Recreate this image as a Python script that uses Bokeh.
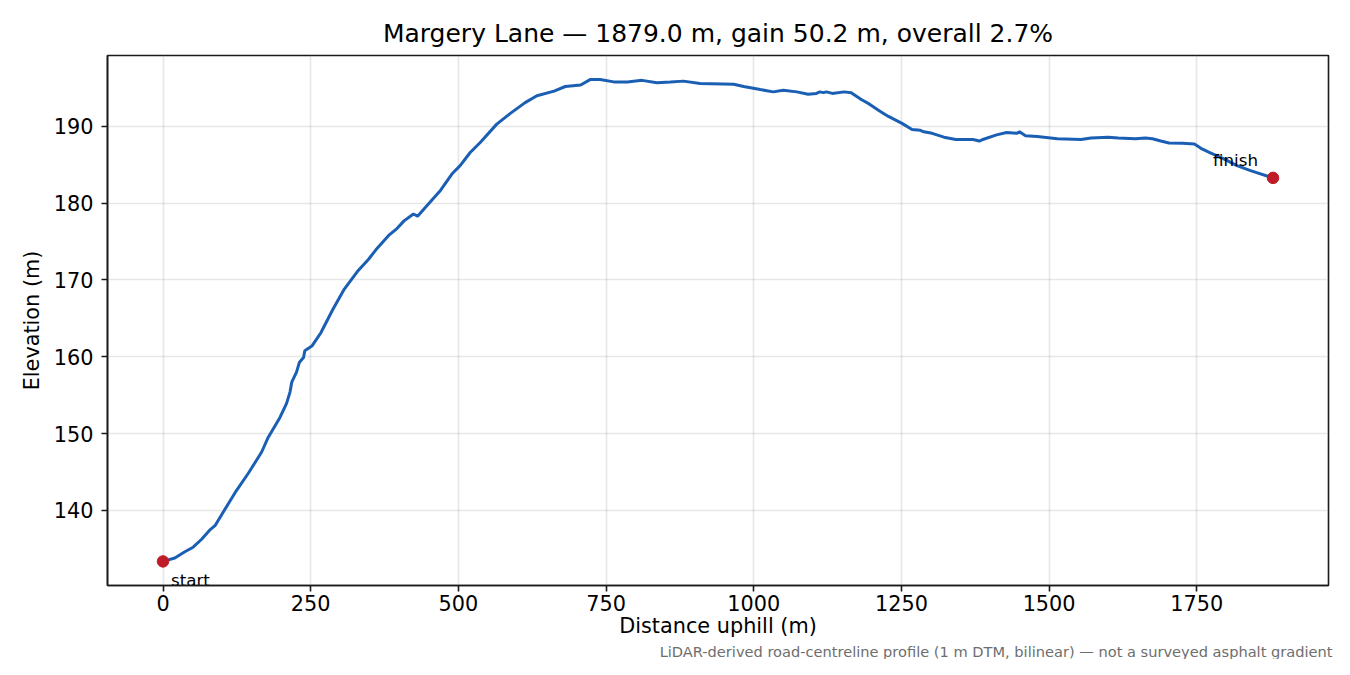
from bokeh.plotting import figure
from bokeh.models import Range1d, FixedTicker, Title
from bokeh.core.properties import value
from bokeh.embed import file_html
from bokeh.resources import INLINE

# profile (distance m, elevation m)
dist = [0, 20, 37, 51, 65, 80, 88, 99, 122, 145, 167, 178, 198, 209, 215, 218, 226, 231,
        238, 240, 252, 260, 267, 287, 306, 329, 348, 360, 382, 396, 408, 424, 431, 447,
        470, 489, 503, 520, 537, 565, 588, 613, 633, 662, 681, 707, 723, 740, 763, 786,
        811, 836, 859, 881, 909, 966, 983, 1011, 1033, 1050, 1073, 1092, 1106, 1112, 1118,
        1123, 1133, 1153, 1165, 1182, 1196, 1213, 1228, 1251, 1268, 1282, 1288, 1302, 1322,
        1342, 1371, 1382, 1388, 1411, 1428, 1445, 1450, 1460, 1480, 1514, 1554, 1571, 1600,
        1617, 1646, 1663, 1675, 1689, 1703, 1726, 1746, 1757, 1772, 1795, 1818, 1841, 1879]
elev = [133.35, 133.8, 134.6, 135.2, 136.2, 137.5, 138.0, 139.4, 142.3, 144.9, 147.6, 149.5,
        152.1, 153.9, 155.4, 156.7, 158.0, 159.3, 159.9, 160.8, 161.4, 162.3, 163.1, 166.1,
        168.7, 171.1, 172.7, 173.9, 175.8, 176.7, 177.7, 178.6, 178.3, 179.7, 181.7, 183.8,
        184.9, 186.6, 187.9, 190.3, 191.7, 193.1, 194.0, 194.6, 195.2, 195.4, 196.1, 196.1,
        195.8, 195.8, 196.0, 195.7, 195.8, 195.9, 195.6, 195.5, 195.2, 194.8, 194.5, 194.7,
        194.5, 194.2, 194.3, 194.5, 194.4, 194.5, 194.3, 194.5, 194.4, 193.5, 192.9, 192.0,
        191.3, 190.4, 189.6, 189.5, 189.3, 189.1, 188.6, 188.3, 188.3, 188.1, 188.3, 188.9,
        189.2, 189.1, 189.3, 188.8, 188.7, 188.4, 188.3, 188.5, 188.6, 188.5, 188.4, 188.5,
        188.4, 188.1, 187.85, 187.8, 187.7, 187.15, 186.6, 185.8, 184.9, 184.25, 183.3]

x_ticks = [0, 250, 500, 750, 1000, 1250, 1500, 1750]
y_ticks = [140, 150, 160, 170, 180, 190]

title = "Margery Lane \u2014 1879.0 m, gain 50.2 m, overall 2.7%"
note = "LiDAR-derived road-centreline profile (1 m DTM, bilinear) \u2014 not a surveyed asphalt gradient"

FONT = "DejaVu Sans"

xpad = 0.05 * (max(dist) - min(dist))
ypad = 0.05 * (max(elev) - min(elev))

p = figure(width=1334, height=659, output_backend="svg", toolbar_location=None,
           x_range=Range1d(min(dist) - xpad, max(dist) + xpad),
           y_range=Range1d(min(elev) - ypad, max(elev) + ypad),
           min_border_left=107, min_border_right=6, min_border_top=55, min_border_bottom=72)

p.title.text = title
p.title.align = "center"
p.title.text_font = FONT
p.title.text_font_size = "25px"
p.title.text_font_style = "normal"
p.title.text_color = "black"
p.title.standoff = 15

p.line(dist, elev, line_color="#1a5fb4", line_width=3)
p.scatter([dist[0], dist[-1]], [elev[0], elev[-1]], size=11.5, fill_color="#c01c28",
          line_color="#c01c28")
p.text([dist[0]], [elev[0]], text=["start"], text_font=value(FONT), text_font_size="16.7px",
       text_align="left", text_baseline="alphabetic", x_offset=8, y_offset=19, text_color="black")
p.text([dist[-1]], [elev[-1]], text=["finish"], text_font=value(FONT), text_font_size="16.7px",
       text_align="right", text_baseline="alphabetic", x_offset=-15, y_offset=-18, text_color="black")

for ax in (p.xaxis[0], p.yaxis[0]):
    ax.major_label_text_font = FONT
    ax.major_label_text_font_size = "20.8px"
    ax.major_label_text_color = "black"
    ax.axis_label_text_font = FONT
    ax.axis_label_text_font_size = "20.8px"
    ax.axis_label_text_font_style = "normal"
    ax.axis_label_text_color = "black"
    ax.major_tick_in = 0
    ax.major_tick_out = 6
    ax.major_tick_line_width = 1.6
    ax.minor_tick_in = 0
    ax.minor_tick_out = 0
    ax.major_tick_line_color = "#1a1a1a"
    ax.axis_line_color = "#1a1a1a"
    ax.axis_line_width = 1.6

p.xaxis.ticker = FixedTicker(ticks=x_ticks)
p.yaxis.ticker = FixedTicker(ticks=y_ticks)
p.xaxis.axis_label = "Distance uphill (m)"
p.yaxis.axis_label = "Elevation (m)"
p.xaxis.major_label_standoff = 3
p.yaxis.major_label_standoff = 8
p.xaxis.axis_label_standoff = 0
p.yaxis.axis_label_standoff = 7

p.grid.grid_line_color = "#b0b0b0"
p.grid.grid_line_alpha = 0.3
p.grid.grid_line_width = 1.6
p.outline_line_color = "#1a1a1a"
p.outline_line_width = 1.6
p.outline_line_alpha = 1.0

foot = Title(text=note, align="right", text_font=FONT, text_font_size="14.6px",
             text_font_style="normal", text_color="#6e6e6e", standoff=0, offset=-4)
p.add_layout(foot, "below")

open("out.html", "w").write(file_html(p, INLINE))
